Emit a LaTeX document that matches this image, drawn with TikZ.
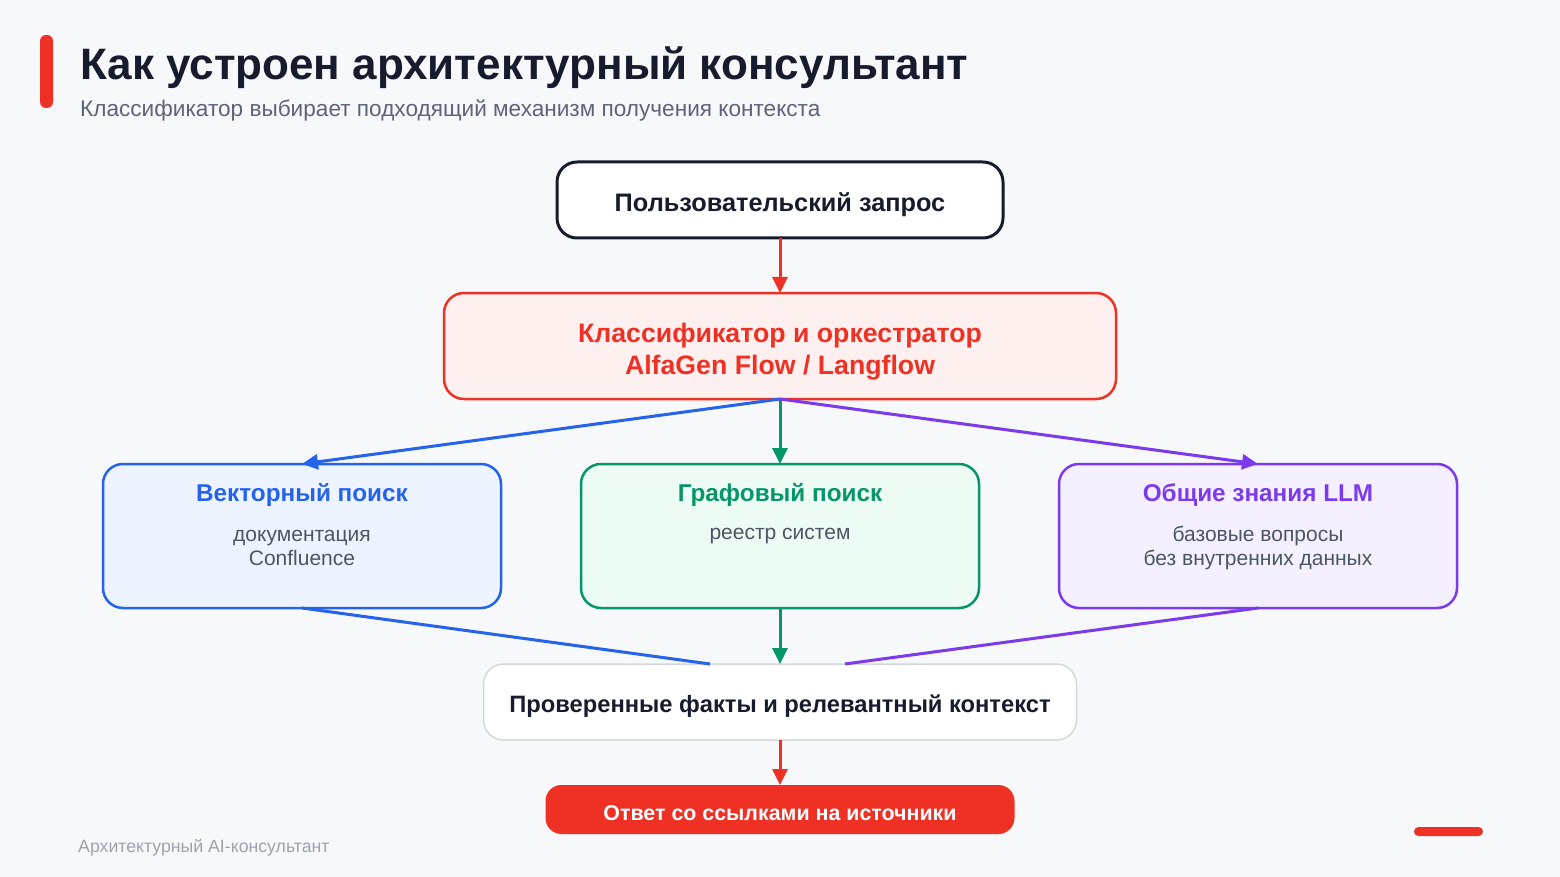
\documentclass[tikz,border=0pt]{standalone}
\usepackage{fontspec}
\setmainfont{Liberation Sans}
\usepackage{xcolor}
\usepackage{tikz}
\usetikzlibrary{shapes,arrows.meta,positioning,calc}

\definecolor{bgc}{HTML}{F7F8FA}
\definecolor{redc}{HTML}{EE3124}
\definecolor{redfill}{HTML}{FFF0F0}
\definecolor{darkc}{HTML}{161C2D}
\definecolor{greyc}{HTML}{4B5563}
\definecolor{subc}{HTML}{5B6478}
\definecolor{footc}{HTML}{9CA3AF}
\definecolor{linec}{HTML}{D3D7DE}
\definecolor{bluec}{HTML}{2563EB}
\definecolor{bluefill}{HTML}{EEF4FF}
\definecolor{greenc}{HTML}{07966A}
\definecolor{greenfill}{HTML}{ECFBF3}
\definecolor{purplec}{HTML}{7C3AED}
\definecolor{purplefill}{HTML}{F4F0FF}

\begin{document}
\begin{tikzpicture}[
    x=1pt, y=-1pt,
    box/.style={rectangle, rounded corners=20pt, align=center, inner sep=0pt, outer sep=0pt, text depth=0pt},
    qbox/.style={box, draw=darkc, fill=white, line width=3pt, minimum width=446pt, minimum height=76pt, font=\fontsize{25.3}{30}\selectfont\bfseries, text=darkc, text height=22.8pt},
    cbox/.style={box, draw=redc, fill=redfill, line width=2.5pt, minimum width=672pt, minimum height=106pt, font=\fontsize{26.7}{32}\selectfont\bfseries, text=redc, text height=57.8pt},
    sbox/.style={box, line width=2.5pt, minimum width=398pt, minimum height=144pt},
    fbox/.style={box, draw=linec, fill=white, line width=1.5pt, minimum width=593pt, minimum height=76pt, font=\fontsize{23.7}{28}\selectfont\bfseries, text=darkc, text height=21.5pt},
    abox/.style={box, rounded corners=16pt, fill=redc, minimum width=469pt, minimum height=49pt, font=\fontsize{21.4}{25}\selectfont\bfseries, text=white, text height=22.8pt},
    ttl/.style={inner sep=0pt, font=\fontsize{24.3}{29}\selectfont\bfseries},
    sub/.style={inner sep=0pt, align=center, text=greyc, font=\fontsize{21}{24}\selectfont},
    arr/.style={-{Triangle[length=16pt, width=15pt]}, line width=3pt},
    ln/.style={line width=3pt}
]
    % background and frame
    \fill [bgc] (0,0) rectangle (1560,877);
    \useasboundingbox (0,0) rectangle (1560,877);
    \fill [redc, rounded corners=6pt] (40,35) rectangle (53,108);
    \fill [redc, rounded corners=4.5pt] (1414,827) rectangle (1483,836);

    \node [anchor=base west, inner sep=0pt, text=darkc, font=\fontsize{44}{52}\selectfont\bfseries] (title) at (80,80) {Как устроен архитектурный консультант};
    \node [anchor=base west, inner sep=0pt, text=subc, font=\fontsize{22.6}{27}\selectfont] (subtitle) at (80,117) {Классификатор выбирает подходящий механизм получения контекста};
    \node [anchor=base west, inner sep=0pt, text=footc, font=\fontsize{17.7}{21}\selectfont] (footer) at (78,852) {Архитектурный AI-консультант};

    % main column
    \node [qbox] (query) at (780,200) {Пользовательский запрос};
    \node [cbox, below=55pt of query] (cls) {Классификатор и оркестратор\\AlfaGen Flow / Langflow};
    \node [sbox, draw=greenc, fill=greenfill, below=65pt of cls] (graph) {};
    \node [sbox, draw=bluec, fill=bluefill, left=80pt of graph] (vec) {};
    \node [sbox, draw=purplec, fill=purplefill, right=80pt of graph] (llm) {};
    \node [fbox, below=56pt of graph] (facts) {Проверенные факты и релевантный контекст};
    \node [abox, below=45pt of facts] (answer) {Ответ со ссылками на источники};

    % box contents
    \node [ttl, text=bluec] (vect) at ([yshift=-31pt]vec.north) {Векторный поиск};
    \node [sub] (vecs) at ([yshift=-84pt]vec.north) {документация\\Confluence};
    \node [ttl, text=greenc] (grapht) at ([yshift=-31pt]graph.north) {Графовый поиск};
    \node [sub] (graphs) at ([yshift=-72pt]graph.north) {реестр систем};
    \node [ttl, text=purplec] (llmt) at ([yshift=-31pt]llm.north) {Общие знания LLM};
    \node [sub] (llms) at ([yshift=-84pt]llm.north) {базовые вопросы\\без внутренних данных};

    % connectors
    \draw [arr, redc] (query) -- (cls);
    \draw [arr, bluec] (cls.south) -- (vec.north);
    \draw [arr, greenc] (cls.south) -- (graph.north);
    \draw [arr, purplec] (cls.south) -- (llm.north);
    \draw [ln, bluec] (vec.south) -- ([xshift=-70pt]facts.north);
    \draw [arr, greenc] (graph.south) -- (facts.north);
    \draw [ln, purplec] (llm.south) -- ([xshift=65pt]facts.north);
    \draw [arr, redc] (facts) -- (answer);
\end{tikzpicture}
\end{document}
